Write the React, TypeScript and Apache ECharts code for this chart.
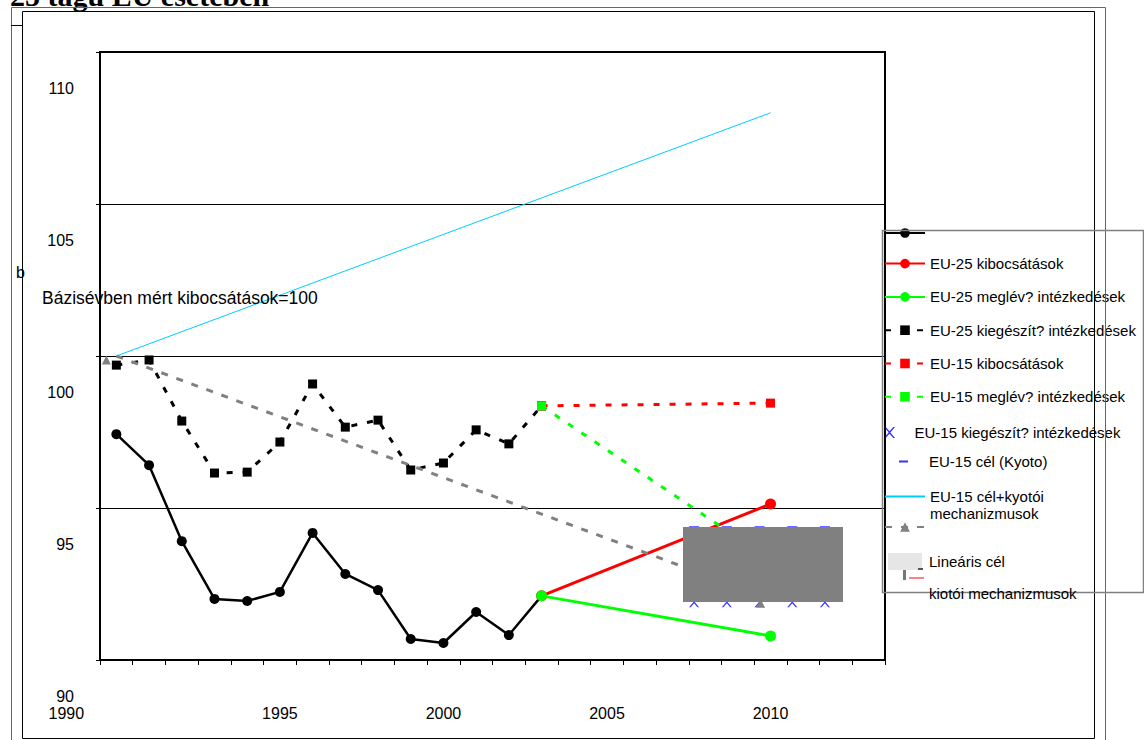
import React, { useEffect, useRef } from 'react';
import * as echarts from 'echarts';

const FONT = '"Liberation Sans", Arial, sans-serif';

const years = ['1990','1991','1992','1993','1994','1995','1996','1997','1998','1999','2000','2001','2002','2003','2004','2005','2006','2007','2008','2009','2010','2011','2012','2013'];
const yTickMin = 90;
const yTickMax = 110;
const yTickStep = 5;

const historyYears = ['1990','1991','1992','1993','1994','1995','1996','1997','1998','1999','2000','2001','2002','2003'];
const eu25History = [97.43, 96.41, 93.91, 92.01, 91.94, 92.24, 94.18, 92.83, 92.3, 90.69, 90.56, 91.58, 90.82, 92.11];
const eu25Additional = [99.7, 99.87, 97.86, 96.15, 96.18, 97.17, 99.08, 97.66, 97.89, 96.25, 96.48, 97.57, 97.11, 98.36];

const projYears = ['2003', '2010'];
const eu25Emissions = [92.11, 95.13];
const eu25Existing = [92.11, 90.79];
const eu15Emissions = [98.36, 98.45];
const eu15Existing = [98.36, 93.29];

const commitYears = ['2008', '2009', '2010', '2011', '2012'];
const eu15AdditionalVals = [91.9, 91.9, 91.9, 91.9, 91.9];
const eu15KyotoTarget = [94.35, 94.35, 94.35, 94.35, 94.35];

const lineYears = ['1990', '2010'];
const eu15TargetPlusMech = [100, 108];
const linearTarget = [100, 92];

const NAME_HIST = 'EU-25 múltbeli kibocsátások';
const NAME_E25 = 'EU-25 kibocsátások';
const NAME_E25_EX = 'EU-25 meglév? intézkedések';
const NAME_E25_ADD = 'EU-25 kiegészít? intézkedések';
const NAME_E15 = 'EU-15 kibocsátások';
const NAME_E15_EX = 'EU-15 meglév? intézkedések';
const NAME_E15_ADD = 'EU-15 kiegészít? intézkedések';
const NAME_E15_T = 'EU-15 cél (Kyoto)';
const NAME_E15_TM = 'EU-15 cél+kyotói mechanizmusok';
const NAME_LIN = 'Lineáris cél';

const place = (ys: string[], vals: number[]) =>
  years.map((y) => {
    const i = ys.indexOf(y);
    return i >= 0 ? vals[i] : null;
  });

const XSYM = 'path://M0,0L1.6,0L5,3.9L8.4,0L10,0L5.8,5L10,10L8.4,10L5,6.1L1.6,10L0,10L4.2,5Z';
const DASH = [6, 10];

export default function App() {
  const ref = useRef<HTMLDivElement>(null);
  useEffect(() => {
    if (!ref.current) return;
    const chart = echarts.init(ref.current, undefined, { renderer: 'svg' });
    const legendText = { fontSize: 15, fontFamily: FONT, color: '#000' };
    const option: any = {
      animation: false,
      backgroundColor: '#fff',
      textStyle: { fontFamily: FONT },
      grid: {
        left: 100, top: 52, width: 785, height: 608,
        outerBoundsMode: 'none', containLabel: false,
        show: true, borderColor: '#000', borderWidth: 2, backgroundColor: 'transparent',
      },
      xAxis: {
        type: 'category',
        data: years,
        boundaryGap: true,
        axisLine: { lineStyle: { color: '#000', width: 2 } },
        axisTick: { show: true, interval: 0, length: 5, lineStyle: { color: '#000', width: 1 } },
        axisLabel: {
          interval: 4,
          margin: 45,
          color: '#000',
          fontSize: 16,
          fontFamily: FONT,
          formatter: (v: string, i: number) => (i === 0 ? '{s|' + v + '}' : v),
          rich: { s: { fontSize: 16, fontFamily: FONT, color: '#000', padding: [0, 100, 0, 0] } },
        },
        splitLine: { show: false },
      },
      yAxis: {
        type: 'value',
        min: yTickMin,
        max: yTickMax,
        interval: yTickStep,
        axisLine: { show: true, lineStyle: { color: '#000', width: 2 } },
        axisTick: { show: true, length: 4, lineStyle: { color: '#000', width: 1 } },
        axisLabel: {
          color: '#000', fontSize: 16, fontFamily: FONT, margin: 26, lineHeight: 72,
          formatter: (v: number) => '\n' + v,
        },
        splitLine: { show: true, lineStyle: { color: '#000', width: 1 } },
      },
      legend: [
        {
          data: [NAME_HIST, NAME_E25, NAME_E25_EX, NAME_E25_ADD, NAME_E15, NAME_E15_EX],
          orient: 'vertical', left: 884, top: 227, padding: 0,
          itemWidth: 40, itemHeight: 12, itemGap: 18.3,
          textStyle: legendText,
          formatter: (n: string) => (n === NAME_HIST ? '' : n),
          selectedMode: false,
        },
        {
          data: [NAME_E15_ADD],
          orient: 'vertical', left: 884, top: 425, padding: 0,
          itemWidth: 40, itemHeight: 11,
          textStyle: legendText, selectedMode: false,
        },
        {
          data: [{ name: NAME_E15_T, icon: 'rect' }],
          orient: 'vertical', left: 899, top: 454, padding: 0,
          itemWidth: 9, itemHeight: 2,
          textStyle: { ...legendText, padding: [0, 0, 0, 16] }, selectedMode: false,
        },
        {
          data: [{ name: NAME_E15_TM, itemStyle: { opacity: 0 } }],
          orient: 'vertical', left: 884, top: 471, padding: 0,
          itemWidth: 40, itemHeight: 12,
          textStyle: { ...legendText, lineHeight: 17 },
          formatter: () => '\nEU-15 cél+kyotói\nmechanizmusok',
          selectedMode: false,
        },
        {
          data: [NAME_LIN],
          orient: 'vertical', left: 884, top: 521, padding: 0,
          itemWidth: 40, itemHeight: 12,
          textStyle: legendText, formatter: () => '', selectedMode: false,
        },
      ],
      series: [
        {
          name: NAME_HIST, type: 'line', data: place(historyYears, eu25History),
          symbol: 'circle', symbolSize: 10, color: '#000',
          lineStyle: { color: '#000', width: 2.5 }, itemStyle: { color: '#000' },
        },
        {
          name: NAME_E25, type: 'line', data: place(projYears, eu25Emissions), connectNulls: true,
          symbol: 'circle', symbolSize: 11, color: '#ff0000',
          lineStyle: { color: '#ff0000', width: 3 }, itemStyle: { color: '#ff0000' },
        },
        {
          name: NAME_E25_EX, type: 'line', data: place(projYears, eu25Existing), connectNulls: true,
          symbol: 'circle', symbolSize: 11, color: '#00ff00',
          lineStyle: { color: '#00ff00', width: 3 }, itemStyle: { color: '#00ff00' },
        },
        {
          name: NAME_E25_ADD, type: 'line', data: place(historyYears, eu25Additional),
          symbol: 'rect', symbolSize: 9, color: '#000',
          lineStyle: { color: '#000', width: 3, type: DASH }, itemStyle: { color: '#000' },
        },
        {
          name: NAME_E15, type: 'line', data: place(projYears, eu15Emissions), connectNulls: true,
          symbol: 'rect', symbolSize: 9, color: '#ff0000',
          lineStyle: { color: '#ff0000', width: 3, type: DASH }, itemStyle: { color: '#ff0000' },
        },
        {
          name: NAME_E15_EX, type: 'line', data: place(projYears, eu15Existing), connectNulls: true,
          symbol: 'rect', symbolSize: 9, color: '#00ff00',
          lineStyle: { color: '#00ff00', width: 3, type: DASH }, itemStyle: { color: '#00ff00' },
        },
        {
          name: NAME_E15_ADD, type: 'scatter', data: place(commitYears, eu15AdditionalVals),
          symbol: XSYM, symbolSize: 10, symbolOffset: [-11, 0], color: '#0000ff',
          itemStyle: { color: '#0000ff' },
        },
        {
          name: NAME_E15_T, type: 'scatter', data: place(commitYears, eu15KyotoTarget),
          symbol: 'rect', symbolSize: [10, 3], symbolOffset: [-11, 0], color: '#0000ff',
          itemStyle: { color: '#0000ff' },
        },
        {
          name: NAME_E15_TM, type: 'line', data: place(lineYears, eu15TargetPlusMech), connectNulls: true,
          showSymbol: false, symbol: 'none', color: '#00ccff',
          lineStyle: { color: '#00ccff', width: 1 },
        },
        {
          name: NAME_LIN, type: 'line', data: place(lineYears, linearTarget), connectNulls: true,
          symbol: 'triangle', symbolSize: 9, symbolOffset: [-10, 4], color: '#808080',
          lineStyle: { color: '#808080', width: 3, type: [7, 9] }, itemStyle: { color: '#808080' },
        },
      ],
      graphic: [
        {
          type: 'text', left: 10, top: -20, z: 50,
          style: { text: '25 tagú EU esetében', font: 'bold 30px "Liberation Serif", "Times New Roman", serif', fill: '#000' },
        },
        { type: 'rect', shape: { x: 11.5, y: 7.5, width: 1094, height: 740 }, style: { fill: 'none', stroke: '#666', lineWidth: 1 }, z: 60, silent: true },
        { type: 'rect', shape: { x: 22.5, y: 11.5, width: 1072, height: 727 }, style: { fill: 'none', stroke: '#000', lineWidth: 1 }, z: 60, silent: true },
        { type: 'line', shape: { x1: 11, y1: 25.5, x2: 22, y2: 25.5 }, style: { stroke: '#000', lineWidth: 1 }, z: 60, silent: true },
        {
          type: 'text', x: 42, y: 298, z: 50,
          style: { text: 'Bázisévben mért kibocsátások=100', fontSize: 17.5, fontFamily: FONT, fill: '#000', verticalAlign: 'middle' },
        },
        {
          type: 'text', x: 16, y: 272, z: 50,
          style: { text: 'b', fontSize: 16, fontFamily: FONT, fill: '#000', verticalAlign: 'middle' },
        },
        { type: 'rect', shape: { x: 683, y: 527, width: 160, height: 75 }, style: { fill: '#808080' }, z: 70, silent: true },
        { type: 'rect', shape: { x: 882.5, y: 230.5, width: 261, height: 362 }, style: { fill: 'none', stroke: '#808080', lineWidth: 1.5 }, z: 60, silent: true },
        { type: 'rect', shape: { x: 888, y: 553, width: 34, height: 17 }, style: { fill: '#e6e6e6' }, z: 60, silent: true },
        { type: 'rect', shape: { x: 903, y: 570, width: 3, height: 10 }, style: { fill: '#777' }, z: 60, silent: true },
        { type: 'rect', shape: { x: 918, y: 568, width: 5, height: 2 }, style: { fill: '#555' }, z: 60, silent: true },
        { type: 'rect', shape: { x: 909, y: 577, width: 15, height: 2 }, style: { fill: '#ff8080' }, z: 60, silent: true },
        {
          type: 'text', x: 929, y: 561, z: 60,
          style: { text: 'Lineáris cél', fontSize: 15, fontFamily: FONT, fill: '#000', verticalAlign: 'middle' },
        },
        {
          type: 'text', x: 929, y: 593, z: 60,
          style: { text: 'kiotói mechanizmusok', fontSize: 15, fontFamily: FONT, fill: '#000', verticalAlign: 'middle' },
        },
      ],
    };
    chart.setOption(option);
    return () => chart.dispose();
  }, []);
  return <div ref={ref} style={{ position: 'fixed', left: 0, top: 0, width: 1144, height: 740 }} />;
}
